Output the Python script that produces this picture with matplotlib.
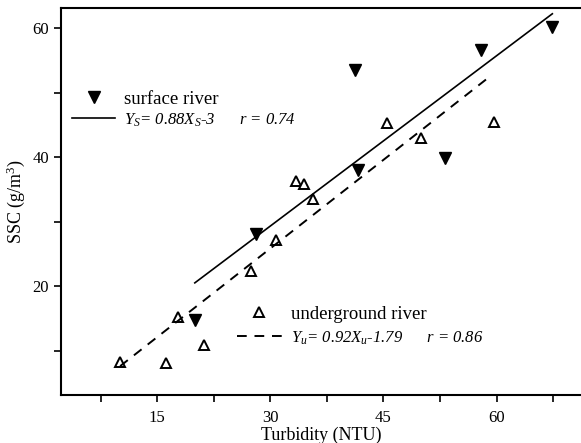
import matplotlib
matplotlib.use('Agg')
import matplotlib.pyplot as plt
from matplotlib.lines import Line2D
from matplotlib.ticker import MultipleLocator

plt.rcParams['font.family'] = ['Liberation Serif', 'DejaVu Serif']
plt.rcParams['mathtext.fontset'] = 'custom'
plt.rcParams['mathtext.rm'] = 'Liberation Serif'
plt.rcParams['mathtext.it'] = 'Liberation Serif:italic'

# surface river samples (filled triangles)
surf_x = [41.2, 58.0, 67.4, 53.2, 41.7, 28.1, 20.0]
surf_y = [53.5, 56.6, 60.2, 39.9, 38.0, 28.1, 14.7]
# underground river samples (open triangles)
und_x = [10.1, 16.2, 17.8, 21.2, 27.5, 30.7, 33.4, 34.5, 35.7, 45.5, 50.0, 59.6]
und_y = [8.2, 8.1, 15.2, 10.9, 22.3, 27.1, 36.3, 35.8, 33.5, 45.3, 42.9, 45.4]

# fitted lines as drawn in the figure
fit_s_x = [20.0, 67.4]
fit_s_y = [20.5, 62.2]
fit_u_x = [10.1, 58.7]
fit_u_y = [7.6, 52.1]

fig = plt.figure(figsize=(5.81, 4.43), dpi=100)
ax = fig.add_axes([0.105, 0.108, 0.895, 0.874])

ax.plot(surf_x, surf_y, linestyle='none', marker='v', ms=8, color='black')
ax.plot(und_x, und_y, linestyle='none', marker='^', ms=7.5, mfc='white',
        mec='black', mew=1.4)
ax.plot(fit_s_x, fit_s_y, color='black', lw=1.2)
ax.plot(fit_u_x, fit_u_y, color='black', lw=1.4, linestyle=(0, (5, 4)))

ax.set_xlim(2.26, 71.2)
ax.set_ylim(3.1, 63.1)
ax.xaxis.set_major_locator(MultipleLocator(15))
ax.xaxis.set_minor_locator(MultipleLocator(7.5))
ax.yaxis.set_major_locator(MultipleLocator(20))
ax.yaxis.set_minor_locator(MultipleLocator(10))
ax.tick_params(which='both', direction='out', length=5, width=1.2, labelsize=12)
ax.tick_params(axis='x', pad=6)
ax.spines['right'].set_visible(False)
for s in ['left', 'bottom', 'top']:
    ax.spines[s].set_linewidth(1.5)

ax.set_xlabel('Turbidity (NTU)', fontsize=13, labelpad=0)
ax.set_ylabel('SSC (g/m$^3$)', fontsize=13, labelpad=4)

# legends
h_s = [Line2D([], [], linestyle='none', marker='v', ms=8, color='black'),
       Line2D([], [], color='black', lw=1.2)]
lab_s = ['surface river', r'$Y_S$= 0.88$X_S$-3      $r$ = 0.74']
leg1 = ax.legend(h_s, lab_s, loc='upper left', bbox_to_anchor=(0.022, 0.787),
                 frameon=False, fontsize=13.5, handlelength=2.25,
                 handletextpad=0.5, labelspacing=0.2, borderpad=0,
                 borderaxespad=0)
leg1.get_texts()[1].set_fontsize(12)
leg1.get_texts()[1].set_style('italic')
ax.add_artist(leg1)

h_u = [Line2D([], [], linestyle='none', marker='^', ms=7.5, mfc='white',
              mec='black', mew=1.4),
       Line2D([], [], color='black', lw=1.4, linestyle=(0, (5, 4)))]
lab_u = ['underground river', r'$Y_u$= 0.92$X_u$-1.79      $r$ = 0.86']
leg2 = ax.legend(h_u, lab_u, loc='upper left', bbox_to_anchor=(0.338, 0.231),
                 frameon=False, fontsize=13.5, handlelength=2.4,
                 handletextpad=0.5, labelspacing=0.35, borderpad=0,
                 borderaxespad=0)
leg2.get_texts()[1].set_fontsize(12)
leg2.get_texts()[1].set_style('italic')

fig.savefig('out.png', dpi=100)
